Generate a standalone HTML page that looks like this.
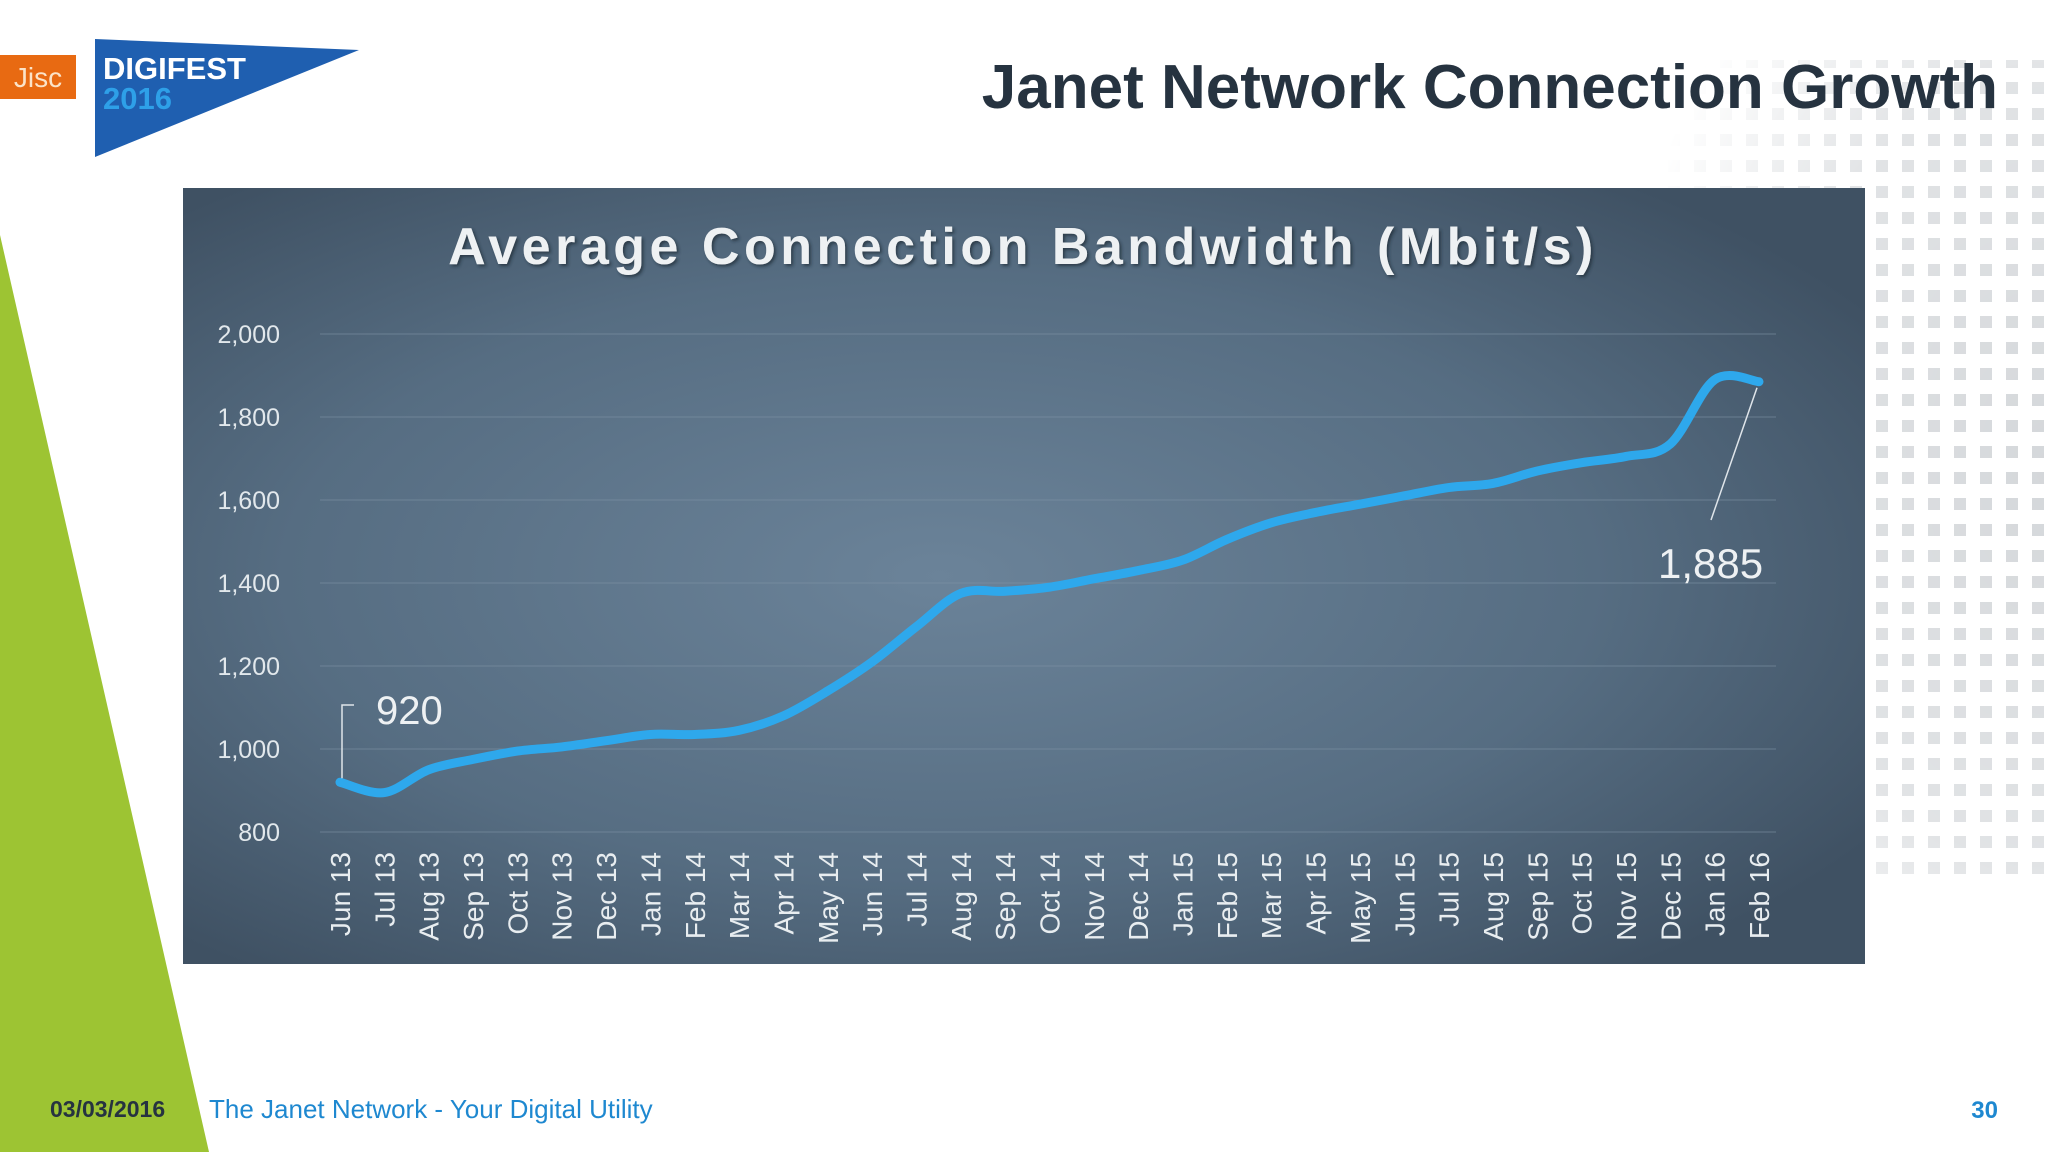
<!DOCTYPE html>
<html><head><meta charset="utf-8"><style>
html,body{margin:0;padding:0;background:#fff;}
body{width:2048px;height:1152px;position:relative;overflow:hidden;font-family:"Liberation Sans",sans-serif;}
</style></head><body>
<svg width="2048" height="1152" viewBox="0 0 2048 1152" xmlns="http://www.w3.org/2000/svg" style="position:absolute;left:0;top:0">
<defs>
<radialGradient id="bg" cx="0.45" cy="0.5" r="0.65">
<stop offset="0" stop-color="#6b8399"/><stop offset="0.6" stop-color="#566d82"/><stop offset="1" stop-color="#3f5163"/></radialGradient>
<pattern id="dots" width="26" height="26" patternUnits="userSpaceOnUse"><rect x="4" y="4" width="12" height="12" fill="#d4d7da"/></pattern>
<radialGradient id="fade" cx="1" cy="0.5" r="0.8"><stop offset="0" stop-color="#fff"/><stop offset="0.6" stop-color="#fff" stop-opacity="0.7"/><stop offset="1" stop-color="#fff" stop-opacity="0"/></radialGradient>
<mask id="m"><rect x="1500" y="60" width="548" height="820" fill="url(#fade)"/></mask>
<filter id="sh"><feDropShadow dx="2" dy="2" stdDeviation="1.5" flood-color="#1a2530" flood-opacity="0.7"/></filter>
</defs>
<rect x="1500" y="60" width="548" height="820" fill="url(#dots)" mask="url(#m)"/>
<polygon points="0,235 209,1152 0,1152" fill="#9dc433"/>
<rect x="0" y="55" width="76" height="44" fill="#e86a12"/>
<text x="38" y="87" text-anchor="middle" font-size="28" fill="#fbe3c8" font-family="Liberation Sans">Jisc</text>
<polygon points="95,39 359,50 95,157" fill="#1f5fb0"/>
<text x="103" y="79" font-size="31" font-weight="bold" fill="#ffffff">DIGIFEST</text>
<text x="103" y="109" font-size="31" font-weight="bold" fill="#2ea0e8">2016</text>
<text x="1998" y="108" text-anchor="end" font-size="62" font-weight="bold" fill="#263340">Janet Network Connection Growth</text>
<rect x="183" y="188" width="1682" height="776" fill="url(#bg)"/>
<text x="1023" y="264" text-anchor="middle" font-size="52" font-weight="bold" fill="#eef1f3" filter="url(#sh)" letter-spacing="4.5">Average Connection Bandwidth (Mbit/s)</text>
<g id="chart"></g>
<text x="50" y="1117" font-size="23" font-weight="bold" fill="#263340">03/03/2016</text>
<text x="209" y="1118" font-size="26" fill="#1e88d0">The Janet Network - Your Digital Utility</text>
<text x="1998" y="1118" text-anchor="end" font-size="24" font-weight="bold" fill="#1e88d0">30</text>
</svg>
<script>
const categories=["Jun 13","Jul 13","Aug 13","Sep 13","Oct 13","Nov 13","Dec 13","Jan 14","Feb 14","Mar 14","Apr 14","May 14","Jun 14","Jul 14","Aug 14","Sep 14","Oct 14","Nov 14","Dec 14","Jan 15","Feb 15","Mar 15","Apr 15","May 15","Jun 15","Jul 15","Aug 15","Sep 15","Oct 15","Nov 15","Dec 15","Jan 16","Feb 16"];
const bandwidth=[920,895,950,975,995,1005,1020,1035,1035,1045,1080,1140,1210,1295,1375,1380,1390,1410,1430,1455,1505,1545,1570,1590,1610,1630,1640,1670,1690,1705,1735,1890,1885];
const yTicks=[800,1000,1200,1400,1600,1800,2000];
const yTickLabels=["800","1,000","1,200","1,400","1,600","1,800","2,000"];
const NS="http://www.w3.org/2000/svg";
const g=document.getElementById('chart');
const x0=340,x1=1759,yA=832,yB=334;
const xs=i=>x0+(x1-x0)*i/(categories.length-1);
const ys=v=>yA-(v-800)/(2000-800)*(yA-yB);
function mk(t,a){const e=document.createElementNS(NS,t);for(const k in a)e.setAttribute(k,a[k]);g.appendChild(e);return e;}
yTicks.forEach((v,i)=>{
 const l=mk('line',{x1:320,x2:1776,y1:ys(v),y2:ys(v),stroke:'#7f93a5','stroke-width':1,'stroke-opacity':0.6});
 
 
 const t=mk('text',{x:280,y:ys(v)+9,'text-anchor':'end','font-size':25,fill:'#e2e8ec'});
 
 
 t.textContent=yTickLabels[i];
});
categories.forEach((c,i)=>{
 const t=mk('text',{x:0,y:0,'text-anchor':'end','font-size':28,fill:'#e8edf0',transform:`translate(${xs(i)+10},852) rotate(-90)`});
 
 
 t.textContent=c;
});
const P=bandwidth.map((v,i)=>[xs(i),ys(v)]);
let d=`M${P[0][0]},${P[0][1]}`;
for(let i=0;i<P.length-1;i++){
 const p0=P[Math.max(0,i-1)],p1=P[i],p2=P[i+1],p3=P[Math.min(P.length-1,i+2)];
 d+=` C${p1[0]+(p2[0]-p0[0])/6},${p1[1]+(p2[1]-p0[1])/6} ${p2[0]-(p3[0]-p1[0])/6},${p2[1]-(p3[1]-p1[1])/6} ${p2[0]},${p2[1]}`;
}
const line=mk('path',{d:d,fill:'none',stroke:'#2ea8ec','stroke-width':9,'stroke-linecap':'round','stroke-linejoin':'round'});


const f=P[0],l=P[P.length-1];
const a1=mk('path',{d:`M${f[0]+2},${f[1]-4} V705 h12`,fill:'none',stroke:'#dfe5ea','stroke-width':1.5});


const t1=mk('text',{x:376,y:724,'font-size':40,fill:'#eef1f3'});


t1.textContent="920";
const a2=mk('line',{x1:l[0]-2,y1:l[1]+6,x2:1711,y2:520,stroke:'#dfe5ea','stroke-width':1.5});


const t2=mk('text',{x:1658,y:578,'font-size':42,fill:'#eef1f3'});


t2.textContent="1,885";
</script>
</body></html>
